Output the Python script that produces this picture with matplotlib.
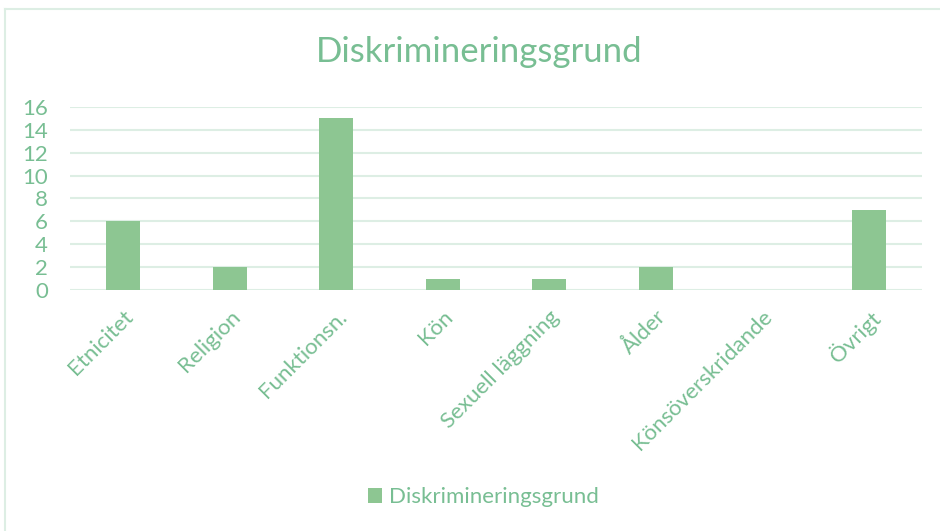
import matplotlib.pyplot as plt
from matplotlib.lines import Line2D
import numpy as np

categories = ["Etnicitet", "Religion", "Funktionsn.", "Kön", "Sexuell läggning",
              "Ålder", "Könsöverskridande", "Övrigt"]
values = [6, 2, 15, 1, 1, 2, 0, 7]
yticks = [0, 2, 4, 6, 8, 10, 12, 14, 16]
series_name = "Diskrimineringsgrund"

bar_color = "#8DC692"
text_color = "#78BE93"
grid_color = "#DDEEE4"

plt.rcParams['font.family'] = ['Lato', 'DejaVu Sans']

fig = plt.figure(figsize=(9.4, 5.31), dpi=100)
ax = fig.add_axes([0.0745, 0.4539, 0.9065, 0.3446])

x = np.arange(len(categories))
ax.bar(x, values, width=0.32, color=bar_color, label=series_name, zorder=3)

ax.set_xlim(-0.5, len(categories) - 0.5)
ax.set_ylim(0, 16)
ax.set_yticks(yticks)
ax.set_xticks(x)
ax.set_xticklabels(categories, rotation=45, ha='right', rotation_mode='anchor')
ax.tick_params(axis='both', length=0, colors=text_color, labelsize=16)
ax.tick_params(axis='y', pad=16)
ax.tick_params(axis='x', pad=12)
ax.grid(axis='y', color=grid_color, linewidth=1.5, zorder=0)
ax.set_axisbelow(True)
for s in ax.spines.values():
    s.set_visible(False)

fig.text(0.51, 0.902, series_name, ha='center', va='center', fontsize=25, color=text_color)

fig.legend(loc='center', bbox_to_anchor=(0.514, 0.064), frameon=False, fontsize=16,
           handlelength=0.65, handleheight=0.65, handletextpad=0.3, labelcolor=text_color)

# chart border (left and top visible)
fig.add_artist(Line2D([0.0055, 0.0055], [0, 0.983], color=grid_color, linewidth=1.5,
                      transform=fig.transFigure))
fig.add_artist(Line2D([0.0055, 1.0], [0.983, 0.983], color=grid_color, linewidth=1.5,
                      transform=fig.transFigure))

fig.savefig("out.png", dpi=100)
